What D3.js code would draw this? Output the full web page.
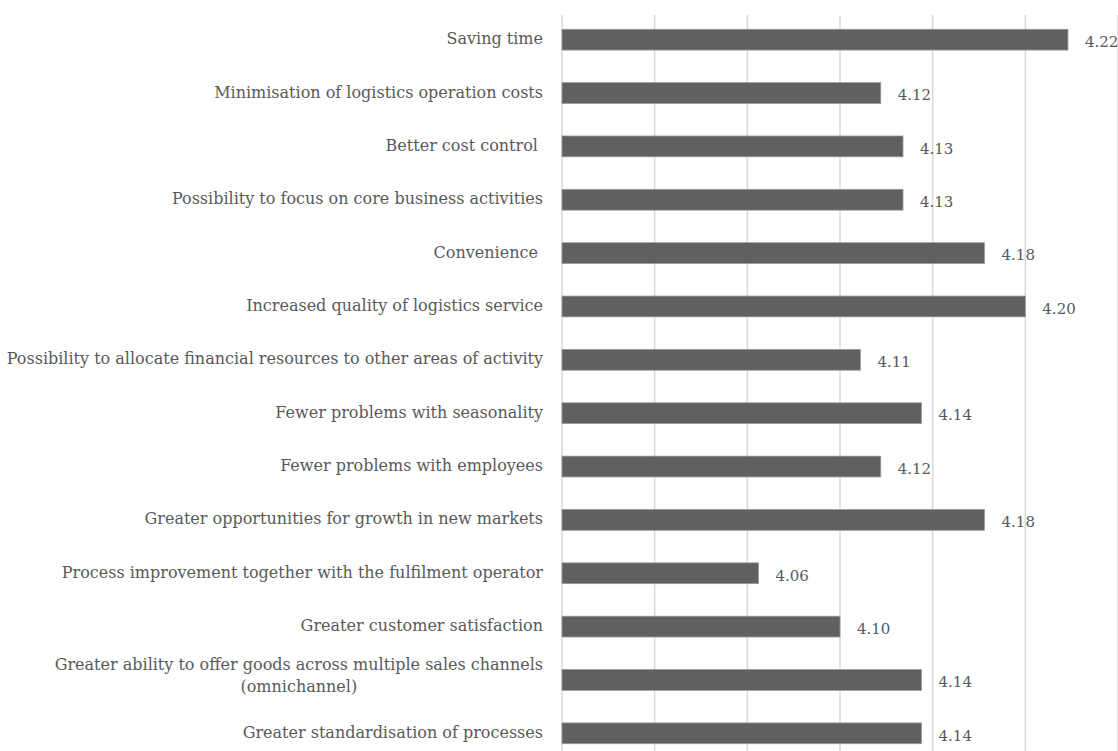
<!DOCTYPE html>
<html>
<head>
    <meta charset="utf-8">
    <style>
        body { margin: 0; background: #fff; }
        .grid line { stroke: #d9d9d9; stroke-width: 1.5; }
        .cat, .val {
            font-family: "DejaVu Serif", serif;
            font-size: 16px;
            fill: #595959;
            white-space: pre;
        }
        .val { font-size: 15px; }
        .bar { fill: #606060; stroke: #9a9a9a; stroke-width: 0.8; }
    </style>
</head>
<body>
    <svg width="1118" height="751"></svg>
    <script src="https://d3js.org/d3.v7.min.js"></script>
    <script>
        // categories, top to bottom
        var categories = [
            "Saving time",
            "Minimisation of logistics operation costs",
            "Better cost control ",
            "Possibility to focus on core business activities",
            "Convenience ",
            "Increased quality of logistics service",
            "Possibility to allocate financial resources to other areas of activity",
            "Fewer problems with seasonality",
            "Fewer problems with employees",
            "Greater opportunities for growth in new markets",
            "Process improvement together with the fulfilment operator",
            "Greater customer satisfaction",
            "Greater ability to offer goods across multiple sales channels\n(omnichannel)",
            "Greater standardisation of processes"
        ];
        // mean scores (labels shown with 2 decimals)
        var values = [4.223, 4.122, 4.134, 4.134, 4.178, 4.200, 4.111, 4.144, 4.122, 4.178, 4.056, 4.100, 4.144, 4.144];
        var gridTicks = [3.95, 4.00, 4.05, 4.10, 4.15, 4.20, 4.25];

        var svg = d3.select("svg");
        var mLeft = 562, mRight = 1118, mTop = 13, mBottom = 760;
        var labelEnd = 543;

        var x = d3.scaleLinear().domain([3.95, 4.25]).range([mLeft, mRight]);
        var y = d3.scaleBand().domain(categories).range([mTop, mBottom]).paddingInner(0.61).paddingOuter(0.305);

        // vertical gridlines
        svg.append("g").attr("class", "grid")
            .selectAll("line")
            .data(gridTicks)
            .enter().append("line")
            .attr("x1", function (d) { return x(d); })
            .attr("x2", function (d) { return x(d); })
            .attr("y1", mTop + 2)
            .attr("y2", 751);

        // bars
        svg.selectAll(".bar")
            .data(values)
            .enter().append("rect")
            .attr("class", "bar")
            .attr("x", x(3.95))
            .attr("y", function (d, i) { return y(categories[i]); })
            .attr("width", function (d) { return x(d) - x(3.95); })
            .attr("height", y.bandwidth());

        // value labels
        svg.selectAll(".val")
            .data(values)
            .enter().append("text")
            .attr("class", "val")
            .attr("x", function (d) { return x(d) + 17; })
            .attr("y", function (d, i) { return y(categories[i]) + y.bandwidth() / 2 + 2; })
            .attr("dy", "0.35em")
            .text(function (d) { return d.toFixed(2); });

        // category labels, extra lines centred under the first
        var lineH = 22;
        svg.selectAll(".cat")
            .data(categories)
            .enter().append("text")
            .attr("class", "cat")
            .each(function (d) {
                var lines = d.split("\n");
                var cy = y(d) + y.bandwidth() / 2 - 1;
                var t = d3.select(this);
                var firstW = 0;
                lines.forEach(function (ln, k) {
                    var span = t.append("tspan")
                        .attr("y", cy + (k - (lines.length - 1) / 2) * lineH - (lines.length > 1 ? 4 : 0))
                        .attr("dy", "0.35em")
                        .text(ln);
                    if (k === 0) {
                        firstW = span.node().getComputedTextLength();
                        span.attr("x", labelEnd - firstW);
                    } else {
                        var w = span.node().getComputedTextLength();
                        span.attr("x", labelEnd - firstW / 2 - w / 2);
                    }
                });
            });
    </script>
</body>
</html>
